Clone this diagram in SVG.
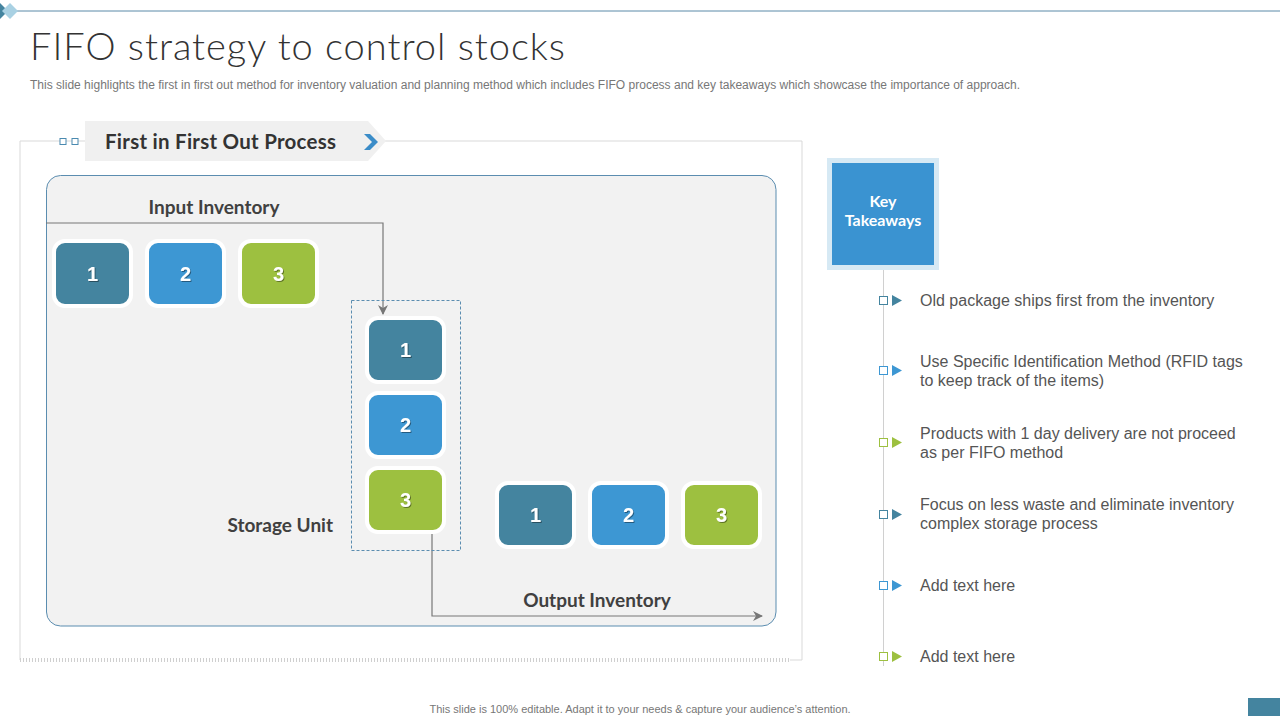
<svg xmlns="http://www.w3.org/2000/svg" width="1280" height="720" viewBox="0 0 1280 720">
<defs>
<style>
.title{font-family:"Lato","Liberation Sans",sans-serif;font-weight:300;font-size:38px;fill:#333;}
.sub{font-family:"Liberation Sans",Arial,sans-serif;font-size:12px;fill:#777;}
.head{font-family:"Lato","Liberation Sans",sans-serif;font-weight:bold;font-size:19px;fill:#404040;}
.num{font-family:"Liberation Sans",Arial,sans-serif;font-weight:bold;font-size:20px;fill:#fff;text-anchor:middle;}
.bt{font-family:"Liberation Sans",Arial,sans-serif;font-size:16px;fill:#555;}
.kt{font-family:"Lato","Liberation Sans",sans-serif;font-weight:bold;font-size:16px;fill:#fff;text-anchor:middle;}
.c1{fill:#44849f;}
.c2{fill:#3d97d3;}
.c3{fill:#9dc040;}
.box{stroke:#fff;stroke-width:4;}
.conn{fill:none;stroke:#777;stroke-width:1.2;}
</style>
<marker id="arr" viewBox="0 0 10 10" refX="9" refY="5" markerWidth="10" markerHeight="10" markerUnits="userSpaceOnUse" orient="auto">
<path d="M0,0 L10,5 L0,10 L3,5 Z" fill="#777"/>
</marker>
<filter id="sh" x="-20%" y="-20%" width="140%" height="140%">
<feDropShadow dx="1" dy="1" stdDeviation="0.6" flood-color="#000" flood-opacity="0.4"/>
</filter>
</defs>
<rect width="1280" height="720" fill="#fff"/>
<!-- header -->
<line x1="14" y1="11" x2="1280" y2="11" stroke="#5a8aa8" stroke-width="1"/>
<path d="M0,3 L8,11 L0,19 Z" fill="#44849f"/>
<path d="M10,3 L18,11 L10,19 L2,11 Z" fill="#a9d1e3"/>
<text class="title" x="30" y="60" textLength="535" lengthAdjust="spacing">FIFO strategy to control stocks</text>
<text class="sub" x="30" y="89" textLength="990" lengthAdjust="spacingAndGlyphs">This slide highlights the first in first out method for inventory valuation and planning method which includes FIFO process and key takeaways which showcase the importance of approach.</text>
<!-- outer frame -->
<g id="frame">
<path d="M85,141 L20,141 L20,660" fill="none" stroke="#d9d9d9" stroke-width="1"/>
<path d="M385,141 L802,141 L802,660" fill="none" stroke="#d9d9d9" stroke-width="1"/>
<line x1="20" y1="660" x2="790" y2="660" stroke="#cfcfcf" stroke-width="4" stroke-dasharray="1 2"/>
<line x1="790" y1="660" x2="802" y2="660" stroke="#d9d9d9" stroke-width="1"/>
<rect x="60" y="138.5" width="6" height="6" fill="#fff" stroke="#4a8ab0" stroke-width="1"/>
<rect x="72" y="138.5" width="6" height="6" fill="#fff" stroke="#4a8ab0" stroke-width="1"/>
</g>
<g id="banner">
<path d="M85,121 L368,121 L386,141 L368,161 L85,161 Z" fill="#f0f0f0"/>
<text class="head" x="105" y="149" style="font-size:20.5px;fill:#333" textLength="231" lengthAdjust="spacing">First in First Out Process</text>
<path d="M364,134 L370,134 L378,142 L370,150 L364,150 L372,142 Z" fill="#3a8cc8"/>
</g>
<g id="panel">
<rect x="46.5" y="175.5" width="729.5" height="450.5" rx="14" fill="#f2f2f2" stroke="#5b8db0" stroke-width="1"/>
</g>
<g id="labels">
<text class="head" x="214" y="214" text-anchor="middle">Input Inventory</text>
<text class="head" x="333" y="532" text-anchor="end">Storage Unit</text>
<text class="head" x="597" y="607" text-anchor="middle">Output Inventory</text>
</g>
<g id="connectors">
<path class="conn" d="M46,223 L383,223 L383,314" marker-end="url(#arr)"/>
<path class="conn" d="M432,532 L432,616 L762,616" marker-end="url(#arr)"/>
<rect x="351.5" y="300.5" width="109" height="250" fill="none" stroke="#5b8db0" stroke-width="1" stroke-dasharray="3 2"/>
</g>
<!-- input -->
<g id="in1"><rect class="box c1" x="54" y="241" width="77" height="65" rx="11"/><text class="num" x="92.5" y="281" filter="url(#sh)">1</text></g>
<g id="in2"><rect class="box c2" x="147" y="241" width="77" height="65" rx="11"/><text class="num" x="185.5" y="281" filter="url(#sh)">2</text></g>
<g id="in3"><rect class="box c3" x="240" y="241" width="77" height="65" rx="11"/><text class="num" x="278.5" y="281" filter="url(#sh)">3</text></g>
<!-- storage -->
<g id="st1"><rect class="box c1" x="367" y="318" width="77" height="64" rx="11"/><text class="num" x="405.5" y="357" filter="url(#sh)">1</text></g>
<g id="st2"><rect class="box c2" x="367" y="393" width="77" height="64" rx="11"/><text class="num" x="405.5" y="432" filter="url(#sh)">2</text></g>
<g id="st3"><rect class="box c3" x="367" y="468" width="77" height="64" rx="11"/><text class="num" x="405.5" y="507" filter="url(#sh)">3</text></g>
<!-- output -->
<g id="out1"><rect class="box c1" x="497" y="483" width="77" height="64" rx="11"/><text class="num" x="535.5" y="522" filter="url(#sh)">1</text></g>
<g id="out2"><rect class="box c2" x="590" y="483" width="77" height="64" rx="11"/><text class="num" x="628.5" y="522" filter="url(#sh)">2</text></g>
<g id="out3"><rect class="box c3" x="683" y="483" width="77" height="64" rx="11"/><text class="num" x="721.5" y="522" filter="url(#sh)">3</text></g>
<!-- key takeaways -->
<g id="key">
<rect x="827" y="158" width="112" height="112" fill="#d6e9f4"/>
<rect x="832" y="163" width="102" height="102" fill="#3a93d1"/>
<text class="kt" x="883" y="207">Key</text>
<text class="kt" x="883" y="226">Takeaways</text>
</g>
<line x1="883.5" y1="270" x2="883.5" y2="666" stroke="#d0d0d0" stroke-width="1"/>
<g id="t1"><rect x="879.5" y="296.5" width="8" height="8" fill="#fff" stroke="#44849f"/><path d="M892,295 L902,300.5 L892,306 Z" class="c1"/><text class="bt" x="920" y="306">Old package ships first from the inventory</text></g>
<g id="t2"><rect x="879.5" y="366.5" width="8" height="8" fill="#fff" stroke="#3d97d3"/><path d="M892,365 L902,370.5 L892,376 Z" class="c2"/><text class="bt" x="920" y="367">Use Specific Identification Method (RFID tags</text><text class="bt" x="920" y="386">to keep track of the items)</text></g>
<g id="t3"><rect x="879.5" y="438.5" width="8" height="8" fill="#fff" stroke="#9dc040"/><path d="M892,437 L902,442.5 L892,448 Z" class="c3"/><text class="bt" x="920" y="439">Products with 1 day delivery are not proceed</text><text class="bt" x="920" y="458">as per FIFO method</text></g>
<g id="t4"><rect x="879.5" y="510.5" width="8" height="8" fill="#fff" stroke="#44849f"/><path d="M892,509 L902,514.5 L892,520 Z" class="c1"/><text class="bt" x="920" y="510">Focus on less waste and eliminate inventory</text><text class="bt" x="920" y="529">complex storage process</text></g>
<g id="t5"><rect x="879.5" y="581.5" width="8" height="8" fill="#fff" stroke="#3d97d3"/><path d="M892,580 L902,585.5 L892,591 Z" class="c2"/><text class="bt" x="920" y="591">Add text here</text></g>
<g id="t6"><rect x="879.5" y="652.5" width="8" height="8" fill="#fff" stroke="#9dc040"/><path d="M892,651 L902,656.5 L892,662 Z" class="c3"/><text class="bt" x="920" y="662">Add text here</text></g>
<!-- footer -->
<text class="sub" x="640" y="713" text-anchor="middle" style="font-size:11px">This slide is 100% editable.  Adapt it to your needs &amp; capture your audience’s attention.</text>
<rect x="1248" y="698" width="32" height="18" fill="#44849f"/>
</svg>
